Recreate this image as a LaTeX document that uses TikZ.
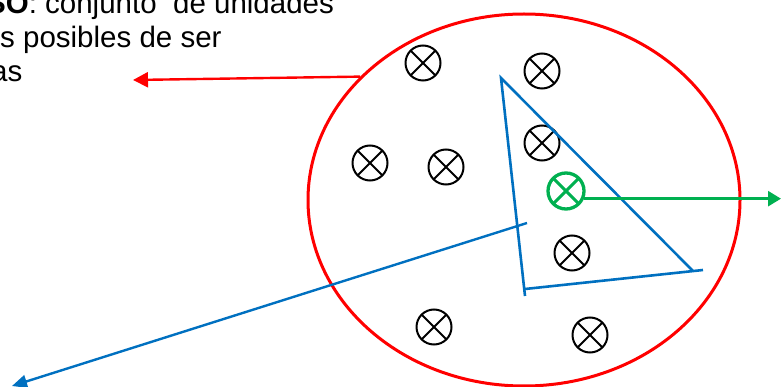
\documentclass[tikz,border=0pt]{standalone}
\usepackage{fontspec}
\setmainfont{Liberation Sans}
\usetikzlibrary{positioning, arrows.meta, shapes.geometric}

\definecolor{univred}{RGB}{255,0,0}
\definecolor{muesblue}{RGB}{0,112,192}
\definecolor{selgreen}{RGB}{0,176,80}

\tikzset{
    cruz/.style={path picture={\draw[#1] (path picture bounding box.north west) -- (path picture bounding box.south east)
        (path picture bounding box.north east) -- (path picture bounding box.south west);}},
    elem/.style={circle,draw,minimum size=35pt,inner sep=0pt,line width=2pt,cruz={line width=2pt}},
    elemsel/.style={circle,draw=selgreen,minimum size=36pt,inner sep=0pt,line width=3.3pt,cruz={selgreen,line width=3pt}},
    texto/.style={anchor=base west,inner sep=0pt,font=\fontsize{29.5}{34}\selectfont},
}

\begin{document}
\begin{tikzpicture}[x=1pt,y=-1pt]
        \clip (0,0) rectangle (781,387);
        % 总体:红色椭圆
        \node[ellipse,draw=univred,line width=3pt,minimum width=432pt,minimum height=372pt,inner sep=0pt] (univ) at (524,200) {};
        % 文字
        \node[texto] (lin1) at (-14,14) {\textbf{SO}: conjunto\ \ de unidades};
        \node[texto] (lin2) at (0,48) {s posibles de ser};
        \node[texto] (lin3) at (-9,82) {as};
        % 单元
        \foreach \px/\py [count=\i] in {423/63, 542/71, 370/163, 446/167, 542/143, 572/253, 434/327, 590/335} {
            \node[elem] (elem-\i) at (\px,\py) {};
        }
        \node[elemsel] (gsel) at (566,191) {};
        % 样本:蓝色三角形
        \coordinate (t-a) at (501,78);
        \coordinate (t-b) at (525,296);
        \coordinate (t-c) at (693,271);
        \coordinate (t-d) at (525,289);
        \coordinate (t-e) at (703,270);
        \draw[muesblue,line width=2.6pt] (t-b) -- (t-a) -- (t-c) (t-d) -- (t-e);
        % 箭头
        \coordinate (redtip) at (133,80);
        \draw[univred,line width=2.4pt,-{Triangle[length=15pt,width=15pt]}] (univ.143.7) -- (redtip);
        \coordinate (b-ini) at (527,223);
        \coordinate (b-fin) at (12,386);
        \draw[muesblue,line width=2.4pt,-{Triangle[length=15pt,width=13pt]}] (b-ini) -- (b-fin);
        \coordinate (gtip) at (781,198);
        \draw[selgreen,line width=2.6pt,-{Triangle[length=13pt,width=15pt]}] (gsel.-23) -- (gsel.-23 -| gtip);
    \end{tikzpicture}
\end{document}
